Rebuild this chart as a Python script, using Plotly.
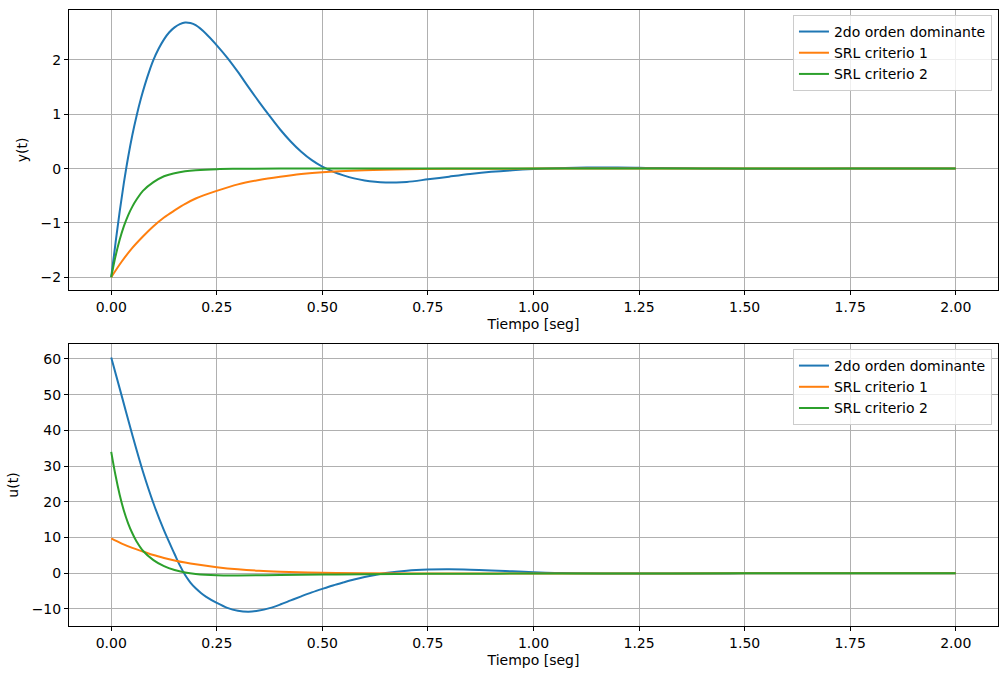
import plotly.graph_objects as go

# ---- top plot: y(t) ----
t_y_blue = [0, 0.01, 0.02, 0.03, 0.04, 0.05, 0.06, 0.07, 0.08, 0.09, 0.10, 0.1125, 0.125, 0.1375, 0.15,
            0.1625, 0.175, 0.1875, 0.20, 0.225, 0.25, 0.275, 0.30, 0.325, 0.35, 0.375, 0.40, 0.425,
            0.45, 0.475, 0.50, 0.525, 0.55, 0.575, 0.60, 0.625, 0.65, 0.675, 0.70, 0.75, 0.80, 0.85,
            0.90, 0.95, 1.00, 1.05, 1.10, 1.15, 1.20, 1.25, 1.30, 1.40, 1.50, 1.75, 2.00]
y_blue = [-2.0, -1.38, -0.79, -0.26, 0.21, 0.62, 0.97, 1.28, 1.55, 1.79, 2.00, 2.21, 2.38, 2.51, 2.60,
          2.66, 2.69, 2.68, 2.64, 2.48, 2.27, 2.04, 1.78, 1.50, 1.23, 0.97, 0.72, 0.50,
          0.31, 0.155, 0.035, -0.055, -0.125, -0.18, -0.218, -0.242, -0.254, -0.255, -0.245, -0.198, -0.148, -0.10,
          -0.06, -0.03, -0.008, 0.008, 0.018, 0.021, 0.019, 0.015, 0.01, 0.003, -0.001, 0.0, 0.0]

t_y_orange = [0, 0.025, 0.05, 0.075, 0.10, 0.125, 0.15, 0.175, 0.20, 0.25, 0.30, 0.35, 0.40, 0.45,
              0.50, 0.60, 0.70, 0.80, 1.00, 1.25, 1.50, 1.75, 2.00]
y_orange = [-2.0, -1.71, -1.46, -1.25, -1.06, -0.90, -0.77, -0.65, -0.55, -0.41, -0.29, -0.21, -0.15, -0.10,
            -0.065, -0.03, -0.012, -0.005, 0.0, 0.0, 0.0, 0.0, 0.0]

t_y_green = [0, 0.01, 0.02, 0.03, 0.04, 0.05, 0.06, 0.075, 0.10, 0.125, 0.15, 0.175, 0.20, 0.25, 0.30,
             0.40, 0.60, 1.00, 1.50, 2.00]
y_green = [-2.0, -1.62, -1.31, -1.06, -0.86, -0.70, -0.57, -0.41, -0.25, -0.14, -0.085, -0.05, -0.03, -0.01,
           -0.004, 0.0, 0.0, 0.0, 0.0, 0.0]

# ---- bottom plot: u(t) ----
t_u_blue = [0, 0.025, 0.05, 0.075, 0.10, 0.125, 0.15, 0.1625, 0.175, 0.1875, 0.20, 0.2125, 0.225,
            0.25, 0.275, 0.30, 0.325, 0.35, 0.375, 0.40, 0.425, 0.45, 0.475, 0.50, 0.525, 0.55,
            0.575, 0.60, 0.625, 0.65, 0.70, 0.75, 0.80, 0.85, 0.90, 0.95, 1.00, 1.05, 1.10, 1.20,
            1.30, 1.50, 1.75, 2.00]
u_blue = [60.4, 49.6, 38.7, 28.5, 19.6, 12.0, 5.4, 2.2, -0.5, -2.6, -4.2, -5.5, -6.6,
          -8.3, -9.7, -10.5, -10.75, -10.45, -9.75, -8.75, -7.6, -6.45, -5.35, -4.35, -3.4, -2.55,
          -1.75, -1.05, -0.45, 0.05, 0.72, 1.03, 1.1, 1.0, 0.8, 0.55, 0.3, 0.1, -0.02, -0.08,
          -0.07, -0.02, 0.0, 0.0]

t_u_orange = [0, 0.025, 0.05, 0.075, 0.10, 0.125, 0.15, 0.175, 0.20, 0.25, 0.30, 0.35, 0.40, 0.50,
              0.60, 0.75, 1.00, 1.25, 1.50, 2.00]
u_orange = [9.75, 8.3, 7.1, 6.1, 5.1, 4.3, 3.6, 3.0, 2.5, 1.7, 1.1, 0.7, 0.45, 0.15,
            0.0, -0.08, -0.08, -0.04, -0.02, 0.0]

t_u_green = [0, 0.01, 0.02, 0.03, 0.04, 0.05, 0.06, 0.075, 0.10, 0.125, 0.15, 0.175, 0.20, 0.25,
             0.30, 0.40, 0.50, 0.60, 0.75, 1.00, 1.25, 1.50, 2.00]
u_green = [34.0, 27.5, 22.0, 17.5, 14.0, 11.2, 8.9, 6.3, 3.7, 2.0, 0.9, 0.2, -0.2, -0.55,
           -0.6, -0.5, -0.35, -0.25, -0.15, -0.08, -0.04, -0.02, 0.0]

labels = ["2do orden dominante", "SRL criterio 1", "SRL criterio 2"]
colors = ["#1f77b4", "#ff7f0e", "#2ca02c"]

x_ticks = [0.0, 0.25, 0.5, 0.75, 1.0, 1.25, 1.5, 1.75, 2.0]
y_ticks_top = [-2, -1, 0, 1, 2]
u_ticks_bottom = [-10, 0, 10, 20, 30, 40, 50, 60]

FONT = "DejaVu Sans"
FS = 14
fig = go.Figure()

top = [(t_y_blue, y_blue), (t_y_orange, y_orange), (t_y_green, y_green)]
bot = [(t_u_blue, u_blue), (t_u_orange, u_orange), (t_u_green, u_green)]

for (tx, vy), lab, c in zip(top, labels, colors):
    fig.add_trace(go.Scatter(x=tx, y=vy, mode="lines", name=lab,
                             line=dict(color=c, width=2, shape="spline", smoothing=1.0),
                             xaxis="x", yaxis="y", legend="legend"))
for (tx, vy), lab, c in zip(bot, labels, colors):
    fig.add_trace(go.Scatter(x=tx, y=vy, mode="lines", name=lab,
                             line=dict(color=c, width=2, shape="spline", smoothing=1.0),
                             xaxis="x2", yaxis="y2", legend="legend2"))

axis_common = dict(showline=True, linecolor="black", linewidth=1, mirror=True,
                   ticks="outside", ticklen=4, tickcolor="black", tickwidth=1,
                   showgrid=True, gridcolor="#b0b0b0", gridwidth=0.8, zeroline=False,
                   tickfont=dict(family=FONT, size=FS, color="black"))

top_dom = [0.5455, 1.0]
bot_dom = [0.0, 0.4578]

fig.update_layout(
    width=1008, height=679,
    margin=dict(l=69, r=10, t=10, b=53),
    paper_bgcolor="white", plot_bgcolor="white",
    font=dict(family=FONT, size=FS, color="black"),
    xaxis=dict(domain=[0, 1], anchor="y", range=[-0.1, 2.1], tickvals=x_ticks,
               tickformat=".2f",
               title=dict(text="Tiempo [seg]", font=dict(family=FONT, size=FS), standoff=5),
               **axis_common),
    yaxis=dict(domain=top_dom, anchor="x", range=[-2.2345, 2.92], tickvals=y_ticks_top,
               title=dict(text="y(t)", font=dict(family=FONT, size=FS), standoff=9),
               **axis_common),
    xaxis2=dict(domain=[0, 1], anchor="y2", range=[-0.1, 2.1], tickvals=x_ticks,
                tickformat=".2f",
                title=dict(text="Tiempo [seg]", font=dict(family=FONT, size=FS), standoff=5),
                **axis_common),
    yaxis2=dict(domain=bot_dom, anchor="x2", range=[-14.76, 64.2], tickvals=u_ticks_bottom,
                title=dict(text="u(t)", font=dict(family=FONT, size=FS), standoff=9),
                **axis_common),
    legend=dict(x=0.9935, y=0.992, xanchor="right", yanchor="top",
                bgcolor="rgba(255,255,255,0.8)", bordercolor="#cccccc", borderwidth=1,
                font=dict(family=FONT, size=FS), itemwidth=30, tracegroupgap=0),
    legend2=dict(x=0.9935, y=0.4497, xanchor="right", yanchor="top",
                 bgcolor="rgba(255,255,255,0.8)", bordercolor="#cccccc", borderwidth=1,
                 font=dict(family=FONT, size=FS), itemwidth=30, tracegroupgap=0),
    showlegend=True,
)

fig.write_html("out.html")
